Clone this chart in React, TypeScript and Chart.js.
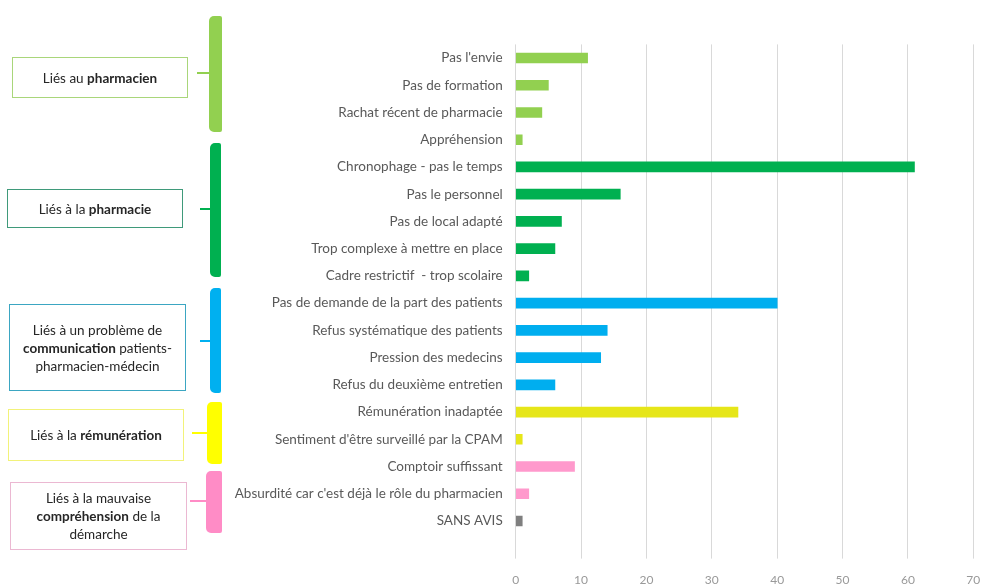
import React, { useEffect, useRef } from "react";
import { Chart, registerables } from "chart.js";

Chart.register(...registerables);

const categories: string[] = [
  "Pas l'envie",
  "Pas de formation",
  "Rachat récent de pharmacie",
  "Appréhension",
  "Chronophage - pas le temps",
  "Pas le personnel",
  "Pas de local adapté",
  "Trop complexe à mettre en place",
  "Cadre restrictif  - trop scolaire",
  "Pas de demande de la part des patients",
  "Refus systématique des patients",
  "Pression des medecins",
  "Refus du deuxième entretien",
  "Rémunération inadaptée",
  "Sentiment d'être surveillé par la CPAM",
  "Comptoir suffissant",
  "Absurdité car c'est déjà le rôle du pharmacien",
  "SANS AVIS",
];

const values: number[] = [11, 5, 4, 1, 61, 16, 7, 6, 2, 40, 14, 13, 6, 34, 1, 9, 2, 1];

const groupOf: number[] = [0, 0, 0, 0, 1, 1, 1, 1, 1, 2, 2, 2, 2, 3, 3, 4, 4, 5];
const groupColors: string[] = ["#92D050", "#00B050", "#00AEEF", "#E6E619", "#FF99CC", "#7F7F7F"];

const xTicks: number[] = [0, 10, 20, 30, 40, 50, 60, 70];

const FONT = "Lato, 'Noto Sans', sans-serif";

type Box = {
  lines: React.ReactNode[];
  border: string;
  bracket: string;
  box: [number, number, number, number];
  br: [number, number, number, number];
  tickY: number;
  tickX: number;
};

const boxes: Box[] = [
  {
    lines: [<span>Liés au <b>pharmacien</b></span>],
    border: "#A9D67A",
    bracket: "#92D050",
    box: [12, 57, 176, 41],
    br: [209, 16, 13, 116],
    tickY: 73,
    tickX: 197,
  },
  {
    lines: [<span>Liés à la <b>pharmacie</b></span>],
    border: "#3F9A7A",
    bracket: "#00B050",
    box: [7, 189, 176, 39],
    br: [210, 143, 11, 134],
    tickY: 209,
    tickX: 200,
  },
  {
    lines: [
      <span>Liés à un problème de</span>,
      <span><b>communication</b> patients-</span>,
      <span>pharmacien-médecin</span>,
    ],
    border: "#3BA6C2",
    bracket: "#00B0F0",
    box: [9, 304, 177, 87],
    br: [210, 288, 11, 105],
    tickY: 341,
    tickX: 200,
  },
  {
    lines: [<span>Liés à la <b>rémunération</b></span>],
    border: "#F2F27A",
    bracket: "#FFFF00",
    box: [8, 409, 176, 52],
    br: [207, 402, 15, 62],
    tickY: 433,
    tickX: 192,
  },
  {
    lines: [
      <span>Liés à la mauvaise</span>,
      <span><b>compréhension</b> de la</span>,
      <span>démarche</span>,
    ],
    border: "#EBB8D2",
    bracket: "#FF8CC6",
    box: [10, 482, 177, 68],
    br: [206, 471, 16, 62],
    tickY: 501,
    tickX: 190,
  },
];

export default function App() {
  const canvasRef = useRef<HTMLCanvasElement | null>(null);

  useEffect(() => {
    if (!canvasRef.current) return;
    const chart = new Chart(canvasRef.current, {
      type: "bar",
      data: {
        labels: categories,
        datasets: [
          {
            data: values,
            backgroundColor: values.map((_, i) => groupColors[groupOf[i]]),
            barThickness: 10,
          },
        ],
      },
      options: {
        indexAxis: "y",
        animation: false,
        responsive: false,
        maintainAspectRatio: false,
        layout: { padding: { top: 44.4, right: 11.7, left: 0, bottom: 0 } },
        plugins: { legend: { display: false }, tooltip: { enabled: false } },
        scales: {
          x: {
            min: 0,
            max: 70,
            afterBuildTicks: (scale: any) => {
              scale.ticks = xTicks.map((v) => ({ value: v }));
            },
            afterFit: (scale: any) => {
              scale.height = 51.4;
              scale.paddingRight = 0;
              scale.paddingLeft = 0;
            },
            grid: {
              color: "#D9D9D9",
              tickColor: "#D9D9D9",
              tickLength: 24,
              drawTicks: true,
            },
            border: { display: false },
            ticks: {
              padding: 14,
              color: "#999999",
              font: { family: FONT, size: 12 },
            },
          },
          y: {
            afterFit: (scale: any) => {
              scale.width = 515.7;
            },
            grid: { display: false, drawTicks: false },
            border: { display: false },
            ticks: {
              padding: 13,
              color: "#595959",
              autoSkip: false,
              font: { family: FONT, size: 13.5 },
            },
          },
        },
      },
    });
    return () => chart.destroy();
  }, []);

  return (
    <div
      style={{
        position: "fixed",
        left: 0,
        top: 0,
        width: 985,
        height: 586,
        background: "#fff",
        overflow: "hidden",
        fontFamily: FONT,
      }}
    >
      <canvas ref={canvasRef} width={985} height={586} style={{ position: "absolute", left: 0, top: 0 }} />
      {boxes.map((b, i) => (
        <React.Fragment key={i}>
          <div
            style={{
              position: "absolute",
              left: b.box[0],
              top: b.box[1],
              width: b.box[2],
              height: b.box[3],
              boxSizing: "border-box",
              border: `1px solid ${b.border}`,
              display: "flex",
              flexDirection: "column",
              justifyContent: "center",
              alignItems: "center",
              fontSize: 13.5,
              lineHeight: "18px",
              color: "#262626",
              textAlign: "center",
            }}
          >
            {b.lines.map((l, j) => (
              <div key={j}>{l}</div>
            ))}
          </div>
          <div
            style={{
              position: "absolute",
              left: b.br[0],
              top: b.br[1],
              width: b.br[2],
              height: b.br[3],
              background: b.bracket,
              borderRadius: "5px 2px 2px 5px",
            }}
          />
          <div
            style={{
              position: "absolute",
              left: b.tickX,
              top: b.tickY - 1,
              width: b.br[0] - b.tickX + 1,
              height: 2,
              background: b.bracket,
            }}
          />
        </React.Fragment>
      ))}
    </div>
  );
}
